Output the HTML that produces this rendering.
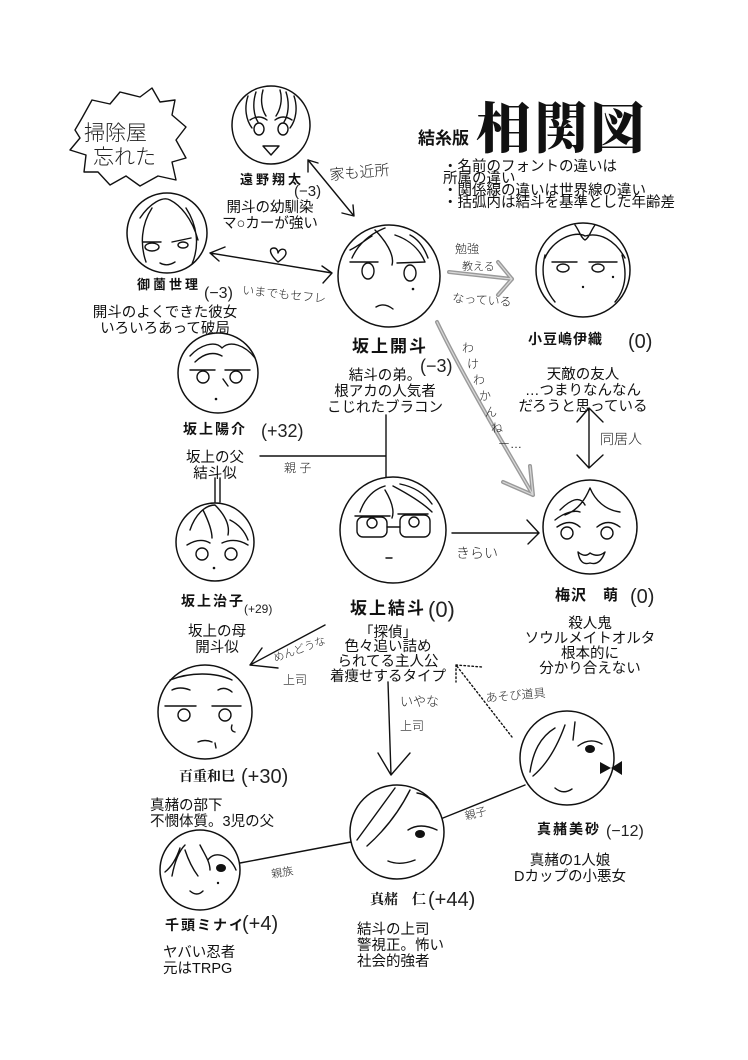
<!DOCTYPE html>
<html><head><meta charset="utf-8">
<style>
html,body{margin:0;padding:0;background:#fff;}
svg{display:block;}
.d{font-family:"Liberation Sans","Noto Sans CJK JP",sans-serif;font-size:14.5px;fill:#111;}
.n{font-family:"Liberation Sans","Noto Sans CJK JP",sans-serif;font-weight:700;fill:#111;}
.h{font-family:"Liberation Sans","Noto Sans CJK JP",sans-serif;fill:#222;font-weight:300;}
.s{fill:none;stroke:#111;stroke-width:1.4;stroke-linecap:round;stroke-linejoin:round;}
.c{fill:#fff;stroke:#111;stroke-width:1.5;}
.g{fill:none;stroke:#9a9a9a;stroke-width:4;stroke-linecap:round;}
.gi{fill:none;stroke:#d8d8d8;stroke-width:1.2;stroke-linecap:round;}
</style></head>
<body>
<svg width="748" height="1060" viewBox="0 0 748 1060" xmlns="http://www.w3.org/2000/svg">
<rect width="748" height="1060" fill="#fff"/>

<!-- spiky bubble -->
<path class="s" stroke-width="1.8" d="M75,130 L82,118 L92,100 L110,104 L120,92 L140,97 L152,88 L160,102 L175,100 L172,115 L186,127 L176,140 L186,158 L172,162 L176,180 L158,176 L140,186 L126,176 L110,185 L98,172 L84,172 L86,155 L70,150 L80,138 Z"/>
<text class="h" x="84" y="140" font-size="21">掃除屋</text>
<text class="h" x="93" y="164" font-size="21">忘れた</text>

<!-- title -->
<text class="n" x="418" y="144" font-size="17">結糸版</text>
<text x="476" y="148" font-family="'Noto Serif CJK SC','Liberation Serif',serif" font-weight="900" font-size="55" fill="#111" letter-spacing="2">相関図</text>
<text class="d" x="443" y="171" font-size="10.5">・名前のフォントの違いは</text>
<text class="d" x="443" y="183" font-size="10.5">所属の違い</text>
<text class="d" x="443" y="195" font-size="10.5">・関係線の違いは世界線の違い</text>
<text class="d" x="443" y="207" font-size="10.5">・括弧内は結斗を基準とした年齢差</text>

<!-- connectors -->
<!-- 遠野 <-> 開斗 -->
<path class="s" d="M308,160 L354,216 M308,160 L308,172 M308,160 L318,163 M354,216 L342,213 M354,216 L353,205"/>
<text class="h" x="330" y="180" font-size="15" transform="rotate(-5 330 180)">家も近所</text>
<!-- 御薗 <-> 開斗 -->
<path class="s" d="M210,253 L332,273 M210,253 L225,247 M210,253 L219,261 M332,273 L322,266 M332,273 L323,283"/>
<path class="s" d="M278,262 C270,255 268,248 274,248 C277,248 278,251 278,253 C279,250 282,248 285,250 C288,254 284,258 278,262 Z"/>
<text class="h" x="204" y="298" font-size="16">(−3)</text>
<text class="h" x="242" y="294" font-size="12" transform="rotate(6 242 294)">いまでもセフレ</text>

<!-- 開斗 -> 伊織 gray -->
<path class="g" d="M449,272 L512,279 M512,279 L498,262 M512,279 L498,295"/>
<path class="gi" d="M449,272 L512,279 M512,279 L498,262 M512,279 L498,295"/>
<text class="h" x="455" y="253" font-size="12">勉強</text>
<text class="h" x="462" y="270" font-size="11">教える</text>
<text class="h" x="452" y="302" font-size="12" transform="rotate(4 452 302)">なっている</text>

<!-- 開斗 -> 萌 gray curve -->
<path class="g" d="M437,322 C460,370 495,430 533,495 M533,495 L530,466 M533,495 L503,482"/>
<path class="gi" d="M437,322 C460,370 495,430 533,495 M533,495 L530,466 M533,495 L503,482"/>
<g class="h" font-size="12">
<text x="462" y="352">わ</text>
<text x="467" y="368">け</text>
<text x="473" y="384">わ</text>
<text x="479" y="400">か</text>
<text x="485" y="416">ん</text>
<text x="491" y="432">ね</text>
<text x="498" y="448">ー…</text>
</g>

<!-- family lines -->
<path class="s" d="M386,415 L386,478 M260,456 L386,456"/>
<text class="h" x="284" y="472" font-size="12">親 子</text>
<path class="s" d="M215,478 L215,502 M220,478 L220,502"/>

<!-- 伊織 <-> 萌 -->
<path class="s" d="M589,408 L589,468 M589,408 L577,422 M589,408 L603,422 M589,468 L577,455 M589,468 L603,455"/>
<text class="h" x="600" y="444" font-size="14">同居人</text>

<!-- 結斗 -> 萌 -->
<path class="s" d="M452,533 L539,533 M539,533 L527,520 M539,533 L528,544"/>
<text class="h" x="456" y="558" font-size="14">きらい</text>

<!-- 結斗 -> 百重 -->
<path class="s" d="M325,625 L250,665 M250,665 L262,648 M250,665 L278,668"/>
<text class="h" x="275" y="662" font-size="11" transform="rotate(-20 275 662)">めんどうな</text>
<text class="h" x="283" y="684" font-size="12">上司</text>

<!-- 結斗 -> 仁 -->
<path class="s" d="M388,682 L391,775 M391,775 L378,753 M391,775 L410,753"/>
<text class="h" x="400" y="706" font-size="13">いやな</text>
<text class="h" x="400" y="730" font-size="12">上司</text>

<!-- 美砂 dotted -->
<path class="s" stroke-dasharray="1.5 2.5" stroke-width="1.2" d="M512,737 L456,665 M456,665 L482,667 M456,665 L456,682"/>
<text class="h" x="486" y="702" font-size="12" transform="rotate(-5 486 702)">あそび道具</text>

<!-- 仁 lines -->
<path class="s" d="M240,863 L351,842 M443,818 L525,785" stroke-width="1.2"/>
<text class="h" x="272" y="878" font-size="11" transform="rotate(-10 272 878)">親族</text>
<text class="h" x="466" y="820" font-size="11" transform="rotate(-15 466 820)">親子</text>

<!-- circles -->
<circle class="c" cx="271" cy="125" r="39"/>
<circle class="c" cx="167" cy="233" r="40"/>
<circle class="c" cx="389" cy="276" r="51"/>
<circle class="c" cx="583" cy="270" r="47"/>
<circle class="c" cx="218" cy="373" r="40"/>
<circle class="c" cx="215" cy="542" r="39"/>
<circle class="c" cx="393" cy="530" r="53"/>
<circle class="c" cx="590" cy="527" r="47"/>
<circle class="c" cx="205" cy="712" r="47"/>
<circle class="c" cx="397" cy="832" r="47"/>
<circle class="c" cx="567" cy="758" r="47"/>
<circle class="c" cx="200" cy="870" r="40"/>

<!-- faces -->
<!-- 遠野 -->
<path class="s" d="M248,96 C244,108 246,120 252,128 M256,92 C252,104 254,116 258,122 M286,92 C290,104 288,116 284,122 M294,96 C298,108 296,120 290,128 M263,90 C260,100 262,110 266,116 M280,90 C283,100 280,110 276,116 M250,120 Q259,114 267,120 M275,120 Q283,114 292,120 M263,146 L279,146 L271,155 Z"/>
<ellipse class="s" cx="259" cy="129" rx="5" ry="6"/><ellipse class="s" cx="283" cy="129" rx="5" ry="6"/>
<!-- 御薗 -->
<path class="s" d="M140,218 C150,203 163,196 170,200 C180,205 192,218 198,240 M152,208 C141,225 140,245 146,262 M186,208 C197,225 200,245 192,264 M143,242 L161,242 M172,242 L191,238 M160,263 Q167,267 175,262"/>
<ellipse class="s" cx="152" cy="247" rx="7" ry="4"/><ellipse class="s" cx="183" cy="245" rx="5" ry="3"/>
<!-- 開斗 -->
<path class="s" d="M352,258 C360,240 375,232 385,228 M375,230 C385,240 395,255 392,265 M395,235 C410,240 420,250 425,262 M410,235 C420,240 425,250 428,258 M350,250 C360,245 365,240 372,236 M350,262 L378,262 M397,263 L425,262 M376,307 Q384,302 393,309"/>
<ellipse class="s" cx="368" cy="271" rx="6" ry="8"/><ellipse class="s" cx="410" cy="273" rx="6" ry="8"/>
<circle cx="413" cy="289" r="1.3" fill="#111"/>
<!-- 伊織 -->
<path class="s" d="M545,258 C552,240 575,230 585,236 C600,232 615,240 625,258 M575,225 C580,232 581,238 585,240 M595,225 C590,232 589,238 585,240 M545,255 C540,275 545,290 555,302 M622,255 C628,275 625,290 615,302 M552,262 L577,262 M589,262 L617,262"/>
<ellipse class="s" cx="563" cy="268" rx="6" ry="4"/><ellipse class="s" cx="598" cy="268" rx="6" ry="4"/>
<circle cx="583" cy="287" r="1.2" fill="#111"/><circle cx="613" cy="277" r="1.2" fill="#111"/>
<!-- 陽介 -->
<path class="s" d="M190,356 C200,345 215,340 222,348 C230,340 245,345 255,358 M195,362 C205,352 215,352 222,356 M190,370 L215,370 M225,370 L250,370 M223,379 L228,386"/>
<ellipse class="s" cx="203" cy="377" rx="6" ry="6"/><ellipse class="s" cx="236" cy="377" rx="6" ry="6"/>
<circle cx="216" cy="399" r="1.3" fill="#111"/>
<!-- 治子 -->
<path class="s" d="M190,530 C195,515 205,505 215,505 C225,515 230,525 228,535 M203,510 C208,520 212,530 212,538 M230,520 C240,525 245,532 248,540 M187,545 Q200,537 210,543 M222,543 Q235,537 248,545"/>
<ellipse class="s" cx="202" cy="554" rx="6" ry="6"/><ellipse class="s" cx="231" cy="554" rx="6" ry="6"/>
<circle cx="214" cy="568" r="1.3" fill="#111"/>
<!-- 結斗 -->
<path class="s" d="M360,512 C365,497 375,489 385,486 M385,490 C391,500 395,510 392,518 M393,486 C410,495 425,505 432,512 M400,484 C415,487 425,494 432,504 M355,516 L390,516 M398,514 L428,514 M387,527 L400,527 M386,558 L392,558"/>
<rect class="s" x="357" y="517" width="30" height="20" rx="6"/><rect class="s" x="400" y="515" width="30" height="22" rx="6"/>
<ellipse class="s" cx="372" cy="523" rx="5" ry="5"/><ellipse class="s" cx="414" cy="522" rx="5" ry="5"/>
<!-- 萌 -->
<path class="s" d="M560,510 C570,500 580,495 585,505 M590,488 C595,500 605,510 620,512 M590,488 C585,500 578,510 565,515 M555,520 C565,512 575,510 580,512 M557,527 Q570,518 580,527 M597,527 Q608,518 620,527 M578,552 Q585,558 590,553 Q598,558 605,552 Q600,566 590,563 Q580,566 578,552"/>
<circle class="s" cx="567" cy="533" r="6"/><circle class="s" cx="607" cy="533" r="6"/>
<!-- 百重 -->
<path class="s" d="M170,680 C190,672 215,672 232,680 M172,690 Q180,686 190,690 M218,690 Q225,686 232,692 M165,706 L196,706 M212,706 L241,706 M232,725 Q230,731 235,732 M198,742 Q205,739 212,742 M215,743 L216,748"/>
<ellipse class="s" cx="184" cy="715" rx="6" ry="6"/><ellipse class="s" cx="225" cy="715" rx="6" ry="6"/>
<!-- 仁 -->
<path class="s" d="M357,840 L395,788 M367,846 C385,830 400,810 410,790 M417,793 C425,794 433,800 437,808 M408,830 Q420,822 437,830 M388,861 Q400,866 415,860"/>
<ellipse cx="420" cy="834" rx="5" ry="4" fill="#111"/>
<!-- 美砂 -->
<path class="s" d="M530,772 C533,752 540,737 555,728 M533,776 C545,766 556,750 565,725 M575,722 L573,740 M578,746 Q590,737 602,744 M555,788 Q563,795 572,789"/>
<ellipse cx="590" cy="749" rx="5" ry="4" fill="#111"/>
<path d="M600,762 L611,768 L600,774 Z M622,761 L611,768 L622,775 Z" fill="#111"/>
<!-- ミナイ -->
<path class="s" d="M172,876 C175,860 180,850 185,845 M185,850 C190,865 195,872 198,876 M200,845 C205,855 210,862 210,870 M208,860 C215,850 230,855 236,870 M180,848 C176,860 170,868 165,872 M190,891 Q197,897 203,891"/>
<ellipse cx="221" cy="868" rx="5" ry="4" fill="#111"/>
<circle cx="218" cy="883" r="1.2" fill="#111"/>

<!-- names & descriptions -->
<text class="n" x="240" y="184" font-size="13" letter-spacing="3">遠野翔太</text>
<text class="h" x="294" y="196" font-size="15">(−3)</text>
<text class="d" x="270" y="212" text-anchor="middle">開斗の幼馴染</text>
<text class="d" x="270" y="228" text-anchor="middle">マ○カーが強い</text>

<text class="n" x="137" y="289" font-size="13" letter-spacing="3">御薗世理</text>
<text class="d" x="165" y="317" text-anchor="middle">開斗のよくできた彼女</text>
<text class="d" x="165" y="333" text-anchor="middle">いろいろあって破局</text>

<text class="n" x="352" y="352" font-size="17" letter-spacing="2">坂上開斗</text>
<text class="h" x="420" y="372" font-size="18">(−3)</text>
<text class="d" x="385" y="380" text-anchor="middle" font-size="15">結斗の弟。</text>
<text class="d" x="385" y="396" text-anchor="middle" font-size="15">根アカの人気者</text>
<text class="d" x="385" y="412" text-anchor="middle" font-size="15">こじれたブラコン</text>

<text class="n" x="528" y="344" font-size="14" letter-spacing="1">小豆嶋伊織</text>
<text class="h" x="628" y="348" font-size="20">(0)</text>
<text class="d" x="583" y="379" text-anchor="middle" font-size="15">天敵の友人</text>
<text class="d" x="583" y="395" text-anchor="middle" font-size="15">…つまりなんなん</text>
<text class="d" x="583" y="411" text-anchor="middle" font-size="15">だろうと思っている</text>

<text class="n" x="183" y="434" font-size="14" letter-spacing="2">坂上陽介</text>
<text class="h" x="261" y="437" font-size="18">(+32)</text>
<text class="d" x="215" y="462" text-anchor="middle">坂上の父</text>
<text class="d" x="215" y="478" text-anchor="middle">結斗似</text>

<text class="n" x="181" y="606" font-size="14" letter-spacing="2">坂上治子</text>
<text class="h" x="244" y="613" font-size="12">(+29)</text>
<text class="d" x="217" y="636" text-anchor="middle">坂上の母</text>
<text class="d" x="217" y="652" text-anchor="middle">開斗似</text>

<text class="n" x="350" y="614" font-size="17" letter-spacing="2">坂上結斗</text>
<text class="h" x="428" y="617" font-size="22">(0)</text>
<text class="d" x="388" y="637" text-anchor="middle">「探偵」</text>
<text class="d" x="388" y="651" text-anchor="middle">色々追い詰め</text>
<text class="d" x="388" y="666" text-anchor="middle">られてる主人公</text>
<text class="d" x="388" y="681" text-anchor="middle">着痩せするタイプ</text>

<text class="n" x="555" y="600" font-size="15" letter-spacing="1">梅沢　萌</text>
<text class="h" x="630" y="603" font-size="20">(0)</text>
<text class="d" x="590" y="628" text-anchor="middle">殺人鬼</text>
<text class="d" x="590" y="643" text-anchor="middle">ソウルメイトオルタ</text>
<text class="d" x="590" y="658" text-anchor="middle">根本的に</text>
<text class="d" x="590" y="673" text-anchor="middle">分かり合えない</text>

<text x="179" y="781" font-family="'Noto Serif CJK SC','Liberation Serif',serif" font-weight="700" font-size="14" fill="#111">百重和巳</text>
<text class="h" x="241" y="783" font-size="20">(+30)</text>
<text class="d" x="150" y="810">真赭の部下</text>
<text class="d" x="150" y="826">不憫体質。3児の父</text>

<text class="n" x="537" y="834" font-size="14" letter-spacing="2">真赭美砂</text>
<text class="h" x="606" y="836" font-size="16">(−12)</text>
<text class="d" x="570" y="865" text-anchor="middle">真赭の1人娘</text>
<text class="d" x="570" y="881" text-anchor="middle">Dカップの小悪女</text>

<text x="370" y="904" font-family="'Noto Serif CJK SC','Liberation Serif',serif" font-weight="700" font-size="14" fill="#111">真赭　仁</text>
<text class="h" x="428" y="906" font-size="20">(+44)</text>
<text class="d" x="357" y="934">結斗の上司</text>
<text class="d" x="357" y="950">警視正。怖い</text>
<text class="d" x="357" y="966">社会的強者</text>

<text class="n" x="165" y="930" font-size="14" letter-spacing="2">千頭ミナイ</text>
<text class="h" x="242" y="930" font-size="20">(+4)</text>
<text class="d" x="163" y="957">ヤバい忍者</text>
<text class="d" x="163" y="973">元はTRPG</text>
</svg>
</body></html>
